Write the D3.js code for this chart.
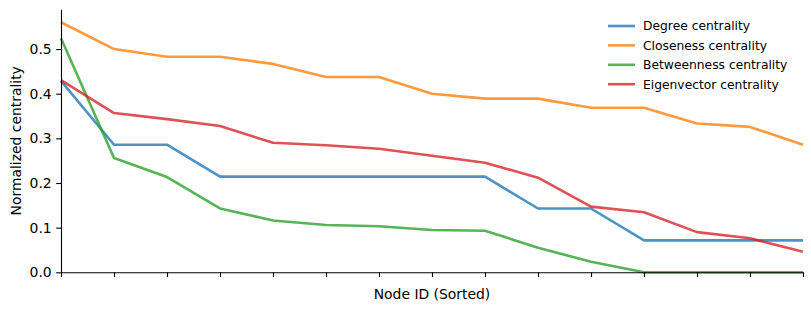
<!DOCTYPE html>
<html><head><meta charset="utf-8">
<script src="https://cdn.jsdelivr.net/npm/d3@7"></script>
<style>body{margin:0;background:#fff}svg{display:block}text{font-family:"DejaVu Sans",sans-serif;fill:#000}</style>
</head><body><svg id="c" width="811" height="311"></svg>
<script>
const nodes = d3.range(15);
const degree = [0.4286,0.2857,0.2857,0.2143,0.2143,0.2143,0.2143,0.2143,0.2143,0.1429,0.1429,0.0714,0.0714,0.0714,0.0714];
const closeness = [0.5600,0.5000,0.4828,0.4828,0.4667,0.4375,0.4375,0.4000,0.3889,0.3889,0.3684,0.3684,0.3333,0.3256,0.2857];
const betweenness = [0.5240,0.2560,0.2134,0.1430,0.1160,0.1060,0.1030,0.0947,0.0932,0.0550,0.0237,0,0,0,0];
const eigenvector = [0.4306,0.3567,0.3430,0.3276,0.2900,0.2844,0.2768,0.2610,0.2455,0.2118,0.1470,0.1343,0.0900,0.0761,0.0460];
const seriesNames = ["Degree centrality","Closeness centrality","Betweenness centrality","Eigenvector centrality"];
const colors = ["#1f77b4","#ff7f0e","#2ca02c","#d62728"];
const yTicks = [0,0.1,0.2,0.3,0.4,0.5];

const series = [degree, closeness, betweenness, eigenvector];
const svg = d3.select("#c");
const L=61, R=803, T=9.3, B=272.3;
const x = d3.scaleLinear().domain([0,14]).range([L,R]);
const y = d3.scaleLinear().domain([0,0.589]).range([B,T]);

const line = d3.line().x((d,i)=>x(nodes[i])).y(d=>y(d));
series.forEach((s,k)=>{
  svg.append("path").attr("d",line(s)).attr("fill","none")
    .attr("stroke",colors[k]).attr("stroke-opacity",0.8).attr("stroke-width",2.6)
    .attr("stroke-linejoin","round").attr("stroke-linecap","butt");
});

const xa = svg.append("g").attr("transform",`translate(0,${B})`)
  .call(d3.axisBottom(x).tickValues(nodes).tickFormat("").tickSizeInner(4.8).tickSizeOuter(0));
const ya = svg.append("g").attr("transform",`translate(${L},0)`)
  .call(d3.axisLeft(y).tickValues(yTicks).tickFormat(d3.format(".1f")).tickSizeInner(4.8).tickSizeOuter(0).tickPadding(4.5));
[xa,ya].forEach(a=>{a.selectAll("path,line").attr("stroke","#000").attr("stroke-width",1.1);
  a.selectAll("text").attr("font-size",13.9).attr("fill","#000").style("font-family","DejaVu Sans");});

svg.append("text").attr("x",(L+R)/2).attr("y",299).attr("text-anchor","middle").attr("font-size",13.9).text("Node ID (Sorted)");
svg.append("text").attr("transform",`translate(20.5,${(T+B)/2}) rotate(-90)`).attr("text-anchor","middle").attr("font-size",13.9).text("Normalized centrality");

const lg = svg.append("g");
seriesNames.forEach((n,k)=>{
  const yy = 26 + k*19.4;
  lg.append("line").attr("x1",608).attr("x2",635).attr("y1",yy).attr("y2",yy)
    .attr("stroke",colors[k]).attr("stroke-opacity",0.8).attr("stroke-width",2.6);
  lg.append("text").attr("x",643).attr("y",yy).attr("dy","0.35em").attr("font-size",12.3).text(n);
});
</script></body></html>
